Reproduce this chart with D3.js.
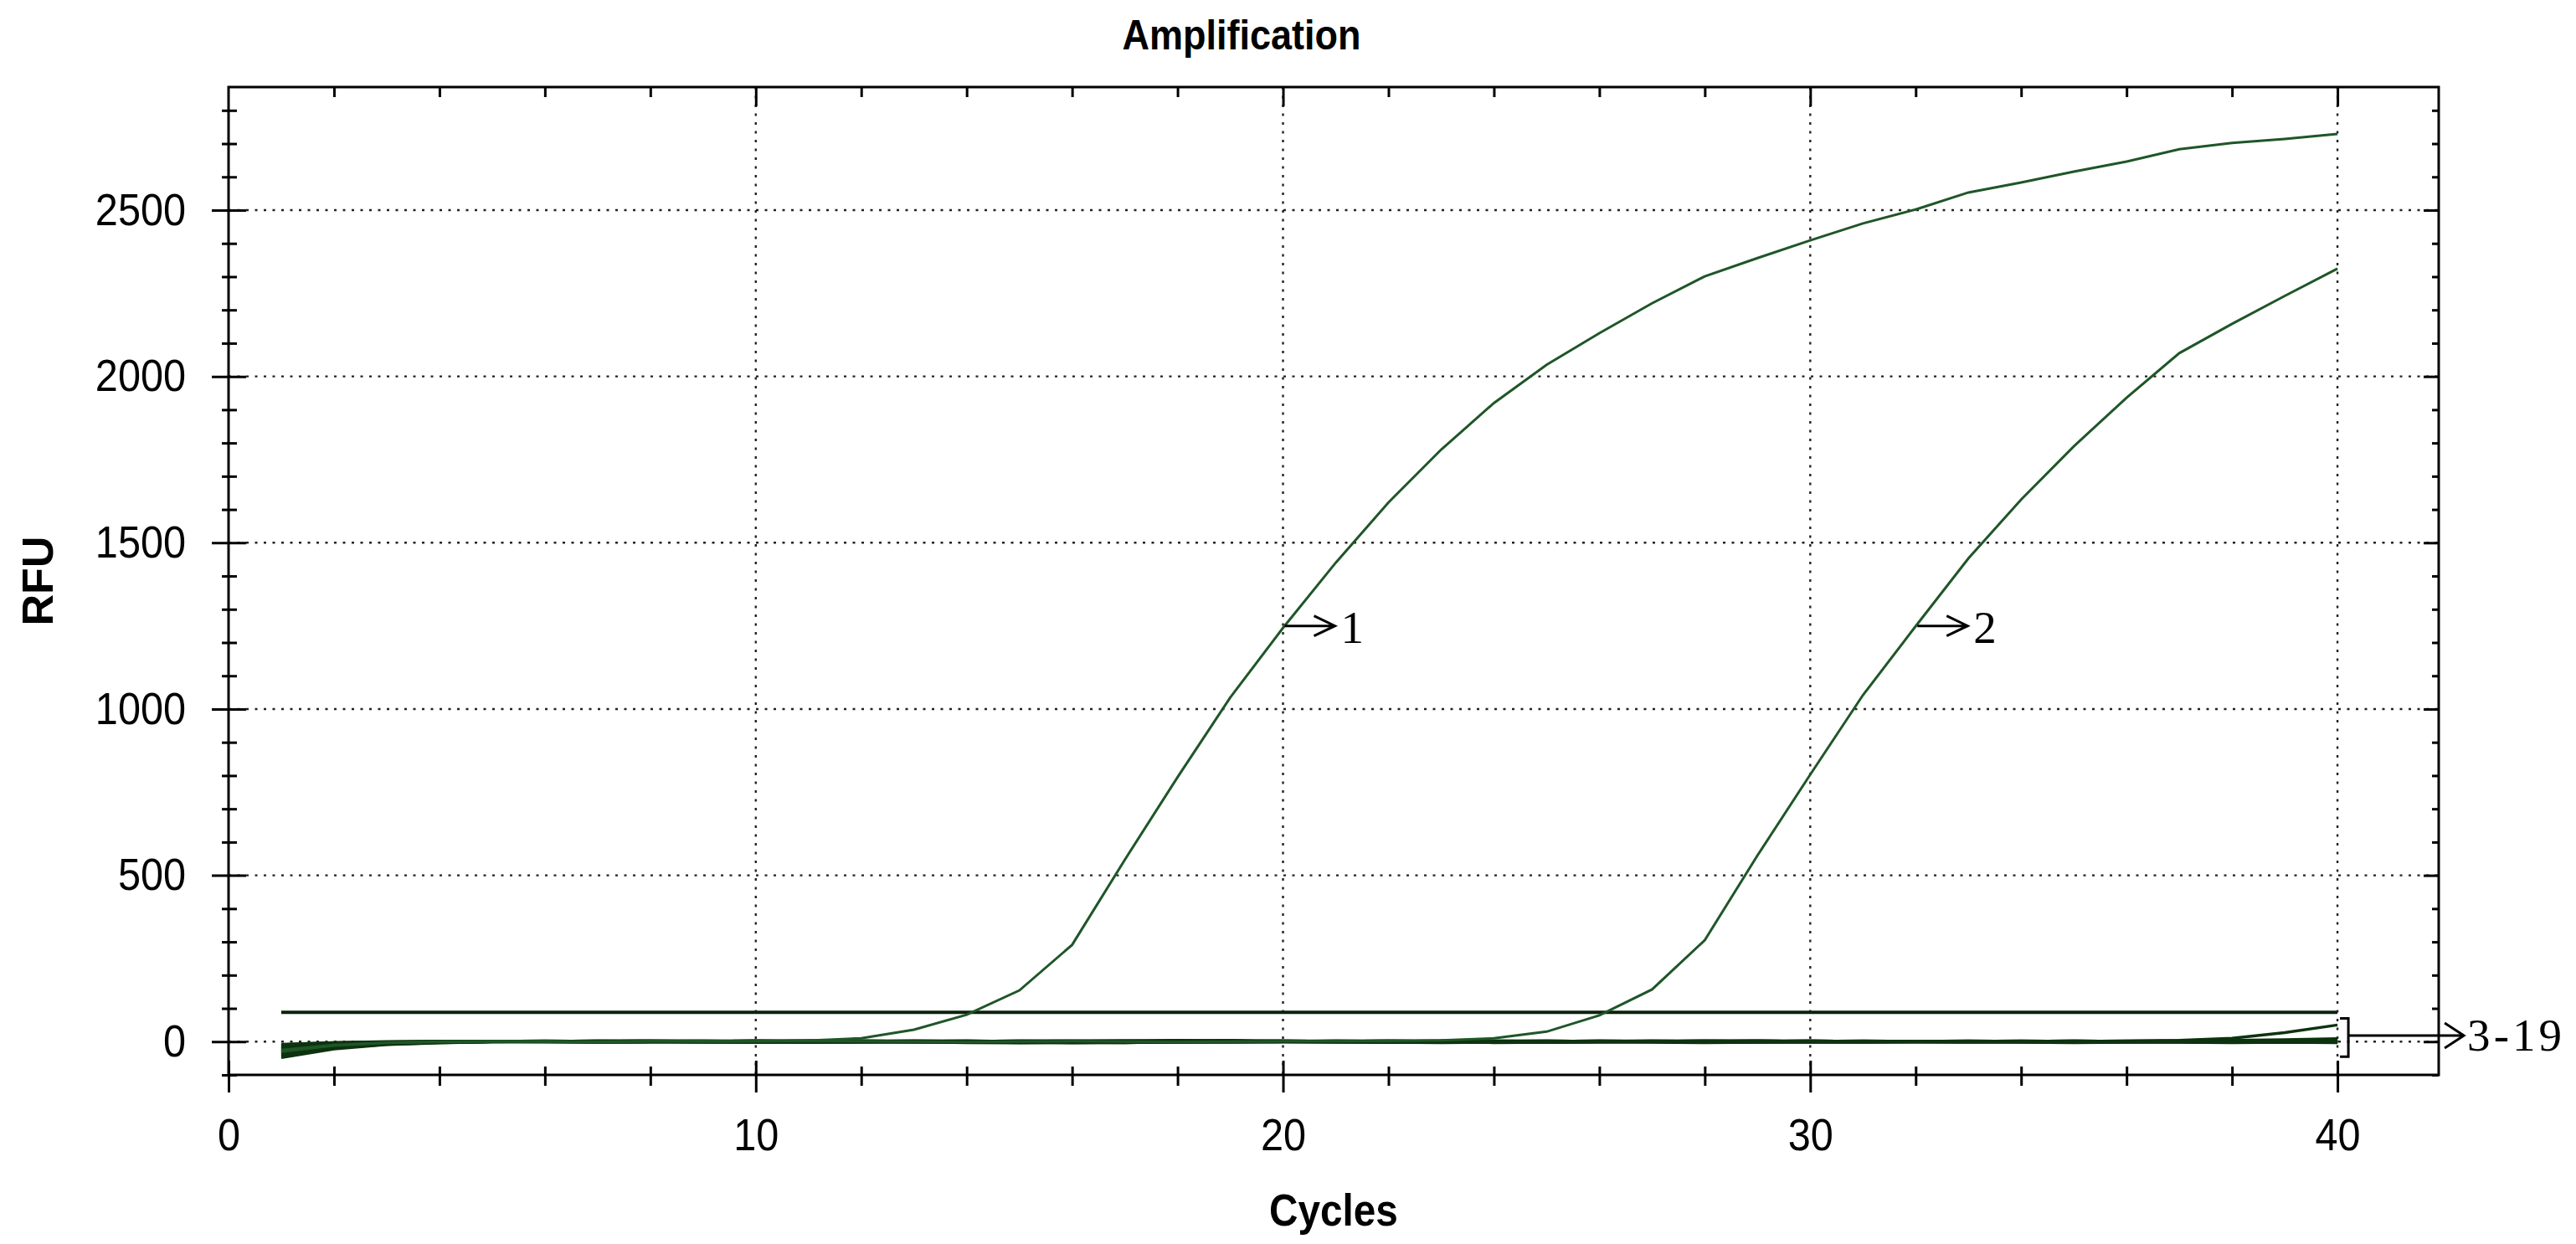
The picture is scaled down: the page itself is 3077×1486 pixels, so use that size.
<!DOCTYPE html>
<html>
<head>
<meta charset="utf-8">
<script src="https://cdn.jsdelivr.net/npm/d3@7"></script>
<style>
body { margin: 0; background: #fff; }
</style>
</head>
<body>
<script>
// SVG
var width = 3077;
var height = 1486;

// --- data ---
var cycles = [1,2,3,4,5,6,7,8,9,10,11,12,13,14,15,16,17,18,19,20,21,22,23,24,25,26,27,28,29,30,31,32,33,34,35,36,37,38,39,40];

var curve1 = [-30,-12,-4,-1,0,1,0,1,2,1,3,10,36,81,154,291,547,795,1035,1244,1440,1621,1780,1920,2035,2130,2220,2301,2356,2409,2460,2502,2553,2583,2616,2646,2683,2702,2714,2729];
var curve2 = [-25,-10,-3,0,1,0,-1,1,0,1,2,1,0,-1,0,1,0,-1,0,1,1,2,4,10,30,79,157,305,560,803,1042,1249,1453,1630,1790,1936,2070,2158,2242,2324];

// samples 3-19, all flat
var s3  = [-48,-22,-9,-4,-1,0,1,2,1,0,-1,0,1,2,1,0,-1,-2,-1,0,1,2,1,0,-1,-1,0,1,2,1,0,-1,0,0,1,2,4,10,27,50];
var s4  = [-44,-19,-8,-3,-1,1,2,1,0,-1,-2,-1,0,1,2,3,2,1,0,-1,0,1,0,-1,-2,-1,0,1,1,2,1,0,-1,0,1,1,2,4,6,9];
var s5  = [-40,-17,-6,-2,0,1,0,-1,0,1,2,1,-1,-3,-4,-2,0,2,3,1,0,-1,0,1,2,1,0,-1,-2,-1,0,1,2,1,0,-1,0,1,1,2];
var s6  = [-37,-15,-6,-2,-1,0,1,2,2,1,0,-1,-2,-1,0,1,3,4,2,0,-1,-2,-1,0,1,2,1,0,1,2,1,0,-1,-1,0,1,0,-1,0,1];
var s7  = [-34,-14,-5,-1,0,1,1,0,-1,-1,0,2,3,2,0,-2,-3,-1,1,2,1,0,-1,-3,-2,0,1,2,1,0,-1,0,1,2,1,0,-1,-2,-1,0];
var s8  = [-31,-12,-4,-1,0,0,1,1,2,3,2,1,0,-1,-3,-4,-3,-1,0,1,2,1,0,1,2,1,-1,-2,-1,0,1,1,0,-1,-2,-1,0,1,2,1];
var s9  = [-28,-11,-4,-1,1,2,1,0,-1,-2,-1,0,1,2,1,0,1,2,1,0,-1,-2,-3,-2,-1,0,1,2,3,2,1,0,-1,0,1,0,-1,-1,0,0];
var s10 = [-26,-10,-3,0,0,-1,-2,-1,0,1,2,2,1,0,-1,0,1,0,-1,0,2,3,2,1,0,-1,0,1,0,-1,-2,-1,0,1,2,1,0,-1,0,1];
var s11 = [-23,-9,-3,0,1,1,0,-1,-2,-1,1,2,1,0,-1,-1,0,1,2,1,0,1,2,1,0,-1,-2,-3,-2,-1,0,1,0,1,2,1,0,-1,-2,-1];
var s12 = [-21,-8,-2,-1,0,1,2,3,2,0,-1,-2,-1,0,1,0,-1,0,1,2,1,0,-1,0,1,2,2,1,0,-1,0,1,2,1,0,-1,-2,-3,-2,-1];
var s13 = [-19,-7,-2,0,0,-1,0,1,1,2,1,0,-1,-2,-2,-1,1,3,4,2,1,0,-1,-1,0,1,0,-1,0,1,2,1,0,-2,-3,-2,-1,0,1,2];
var s14 = [-17,-6,-2,0,1,2,1,0,0,-1,-2,-1,0,1,2,1,0,-1,-2,-1,0,1,2,3,2,1,0,-1,0,1,1,0,-1,0,1,2,3,2,1,0];
var s15 = [-15,-5,-1,0,0,1,0,-1,-1,0,1,1,2,1,0,-1,-2,-2,-1,0,1,2,1,0,-1,0,2,3,2,1,0,-1,-2,-1,0,1,0,-1,-2,-3];
var s16 = [-13,-5,-1,1,0,-1,-2,-1,1,2,3,2,1,0,-1,0,1,2,1,-1,-2,-1,0,1,0,-1,-1,0,1,2,1,0,1,2,1,0,-1,0,1,0];
var s17 = [-11,-4,-1,0,0,1,2,1,0,-1,0,1,0,-1,-2,-3,-2,0,1,2,2,1,0,-1,-2,-1,0,1,2,1,0,-1,0,1,0,-1,0,1,2,3];
var s18 = [-9,-3,0,0,1,0,-1,0,1,2,1,0,-1,0,1,2,3,2,1,0,-1,-2,-1,0,1,2,1,0,-1,-2,-2,-1,0,1,2,1,0,-1,-1,-2];
var s19 = [-8,-3,-1,0,0,0,1,0,-1,-2,-1,0,1,1,2,1,0,-1,0,1,0,-1,-2,-1,0,1,2,1,0,1,2,1,0,-1,-2,-1,0,1,1,0];
var flatSamples = [s3,s4,s5,s6,s7,s8,s9,s10,s11,s12,s13,s14,s15,s16,s17,s18,s19];

var threshold = 88;

var xMajorTicks = [0,10,20,30,40];
var xMinorTicks = [2,4,6,8,12,14,16,18,22,24,26,28,32,34,36,38];
var yMajorTicks = [0,500,1000,1500,2000,2500];
var yMinorTicks = [-100,100,200,300,400,600,700,800,900,1100,1200,1300,1400,1600,1700,1800,1900,2100,2200,2300,2400,2600,2700,2800];

var curveLabels = [{text: "1", cycle: 20, rfu: 1250}, {text: "2", cycle: 32, rfu: 1250}];
var groupLabel = {text: "3-19", cycle: 40, top: 70, bottom: -45, rfu: 18};

// --- layout ---
var plotLeft = 273, plotRight = 2913, plotTop = 104, plotBottom = 1284;
var sans = "'Liberation Sans', Arial, sans-serif";
var serif = "'Liberation Serif', 'Times New Roman', serif";

var svgTag = d3.select("body").append("svg")
	.attr("width", width)
	.attr("height", height)
	.style("background", "#fff");

var x = d3.scaleLinear().domain([0, 41.92]).range([plotLeft, plotRight]);
var y = d3.scaleLinear().domain([-100, 2870]).range([plotBottom, plotTop]);

// grid
var grid = svgTag.append("g")
	.attr("stroke", "#222")
	.attr("stroke-width", 2.4)
	.attr("stroke-dasharray", "3,7.5");
grid.selectAll(".vgrid").data(xMajorTicks.filter(d => d > 0)).enter().append("line")
	.attr("x1", d => x(d)).attr("x2", d => x(d))
	.attr("y1", plotTop).attr("y2", plotBottom);
grid.selectAll(".hgrid").data(yMajorTicks).enter().append("line")
	.attr("x1", plotLeft).attr("x2", plotRight)
	.attr("y1", d => y(d)).attr("y2", d => y(d));

// curves
var line = d3.line()
	.x((d, i) => x(cycles[i]))
	.y(d => y(d));

svgTag.append("g").selectAll("path").data(flatSamples).enter().append("path")
	.attr("d", line)
	.attr("fill", "none")
	.attr("stroke", "#0d330f")
	.attr("stroke-width", 3.4);

svgTag.append("line")
	.attr("x1", x(cycles[0])).attr("x2", x(cycles[cycles.length - 1]))
	.attr("y1", y(threshold)).attr("y2", y(threshold))
	.attr("stroke", "#0a220b")
	.attr("stroke-width", 4);

svgTag.append("g").selectAll("path").data([curve1, curve2]).enter().append("path")
	.attr("d", line)
	.attr("fill", "none")
	.attr("stroke", "#1f5628")
	.attr("stroke-width", 3);

// frame
svgTag.append("rect")
	.attr("x", plotLeft).attr("y", plotTop)
	.attr("width", plotRight - plotLeft).attr("height", plotBottom - plotTop)
	.attr("fill", "none")
	.attr("stroke", "#000")
	.attr("stroke-width", 3);

// axes
function tidy(g) {
	g.select(".domain").remove();
	g.selectAll(".tick line").attr("stroke", "#000").attr("stroke-width", 3);
	return g;
}

var yAxis = svgTag.append("g")
	.attr("transform", "translate(" + plotLeft + ",0)")
	.call(d3.axisLeft(y).tickValues(yMajorTicks).tickSize(20).tickPadding(31).tickFormat(d3.format("d")))
	.call(tidy)
	.attr("font-size", 54).attr("font-family", sans);
yAxis.selectAll(".tick line").attr("x1", 21);
yAxis.selectAll("text").attr("fill", "#000").classed("sq", true);

svgTag.append("g")
	.attr("transform", "translate(" + plotLeft + ",0)")
	.call(d3.axisLeft(y).tickValues(yMinorTicks).tickSize(8).tickFormat(""))
	.call(tidy)
	.selectAll(".tick line").attr("x1", 10);

var xAxis = svgTag.append("g")
	.attr("transform", "translate(0," + plotBottom + ")")
	.call(d3.axisBottom(x).tickValues(xMajorTicks).tickSize(21).tickPadding(31).tickFormat(d3.format("d")))
	.call(tidy)
	.attr("font-size", 54).attr("font-family", sans);
xAxis.selectAll(".tick line").attr("y1", -17);
xAxis.selectAll("text").attr("fill", "#000").classed("sq", true);

svgTag.append("g")
	.attr("transform", "translate(0," + plotBottom + ")")
	.call(d3.axisBottom(x).tickValues(xMinorTicks).tickSize(13).tickFormat(""))
	.call(tidy)
	.selectAll(".tick line").attr("y1", -10);

// mirrored inner ticks, top and right
svgTag.append("g")
	.attr("transform", "translate(0," + plotTop + ")")
	.call(d3.axisTop(x).tickValues(xMinorTicks).tickSize(-12).tickFormat(""))
	.call(tidy);
svgTag.append("g")
	.attr("transform", "translate(0," + plotTop + ")")
	.call(d3.axisTop(x).tickValues(xMajorTicks.filter(d => d > 0)).tickSize(-23).tickFormat(""))
	.call(tidy);
svgTag.append("g")
	.attr("transform", "translate(" + plotRight + ",0)")
	.call(d3.axisRight(y).tickValues(yMinorTicks).tickSize(-8).tickFormat(""))
	.call(tidy);
svgTag.append("g")
	.attr("transform", "translate(" + plotRight + ",0)")
	.call(d3.axisRight(y).tickValues(yMajorTicks).tickSize(-18).tickFormat(""))
	.call(tidy);

// titles
svgTag.append("text")
	.attr("class", "sq")
	.attr("x", 1483).attr("y", 59)
	.attr("text-anchor", "middle")
	.attr("font-family", sans).attr("font-weight", "bold").attr("font-size", 50)
	.text("Amplification");

svgTag.append("text")
	.attr("class", "sq")
	.attr("x", (plotLeft + plotRight) / 2).attr("y", 1464)
	.attr("text-anchor", "middle")
	.attr("font-family", sans).attr("font-weight", "bold").attr("font-size", 53)
	.text("Cycles");

svgTag.append("text")
	.attr("transform", "translate(63,694) rotate(-90)")
	.attr("text-anchor", "middle")
	.attr("font-family", sans).attr("font-weight", "bold").attr("font-size", 52)
	.text("RFU");

// curve labels with arrows
var ann = svgTag.append("g").selectAll("g").data(curveLabels).enter().append("g")
	.attr("transform", d => "translate(" + (x(d.cycle) + 2) + "," + y(d.rfu) + ")");
ann.append("path")
	.attr("d", "M0,0H60M35,-12L60,0L35,12")
	.attr("fill", "none").attr("stroke", "#000").attr("stroke-width", 3);
ann.append("text")
	.attr("x", 67).attr("y", 20)
	.attr("font-family", serif).attr("font-size", 55)
	.text(d => d.text);

// bracket for the flat samples
var bx = x(groupLabel.cycle) + 13;
var by = y(groupLabel.rfu);
svgTag.append("path")
	.attr("d", "M" + (bx - 10) + "," + y(groupLabel.top) + "H" + bx + "V" + y(groupLabel.bottom) + "H" + (bx - 10))
	.attr("fill", "none").attr("stroke", "#000").attr("stroke-width", 3);
svgTag.append("path")
	.attr("d", "M" + bx + "," + by + "H" + (bx + 138) + "M" + (bx + 115) + "," + (by - 15) + "L" + (bx + 138) + "," + by + "L" + (bx + 115) + "," + (by + 15))
	.attr("fill", "none").attr("stroke", "#000").attr("stroke-width", 3);
svgTag.append("text")
	.attr("x", bx + 142).attr("y", by + 18)
	.attr("font-family", serif).attr("font-size", 55)
	.attr("textLength", 113).attr("lengthAdjust", "spacing")
	.text(groupLabel.text);

// the source picture is a little narrower than its fonts
d3.selectAll(".sq").each(function() {
	var w = this.getComputedTextLength();
	d3.select(this).attr("textLength", w * 0.9).attr("lengthAdjust", "spacingAndGlyphs");
});
</script>
</body>
</html>
